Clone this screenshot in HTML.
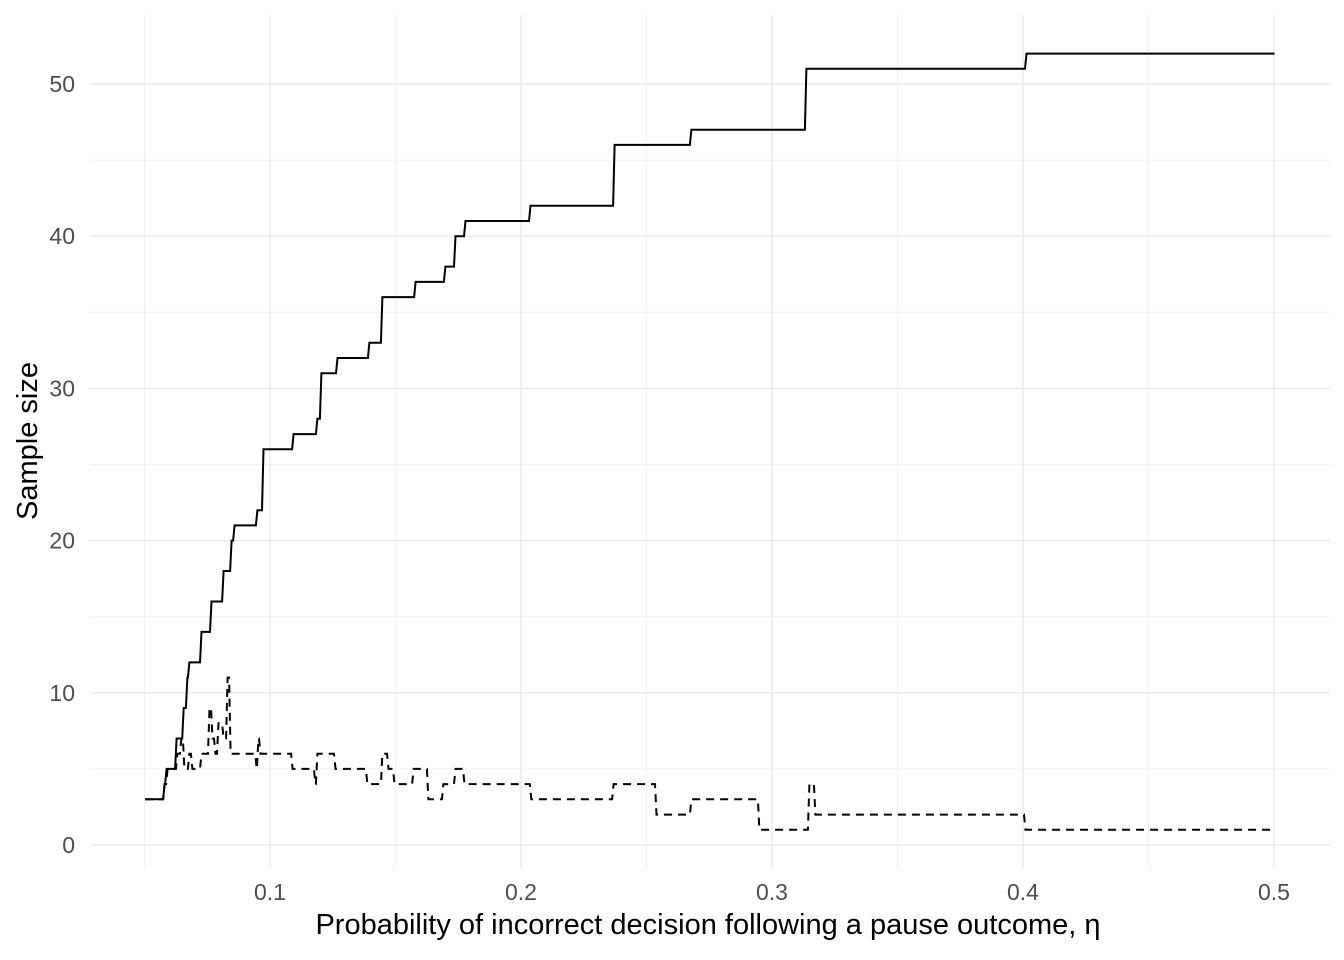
<!DOCTYPE html>
<html><head><meta charset="utf-8"><style>
html,body{margin:0;padding:0;background:#fff}
svg{display:block;font-family:"Liberation Sans",Arial,sans-serif}
</style></head><body>
<svg id="chart" width="1344" height="960" viewBox="0 0 1344 960">
<g id="grid"></g>
<g id="series"></g>
<g id="axes"></g>
<text x="708" y="934" font-size="29" text-anchor="middle" fill="#000">Probability of incorrect decision following a pause outcome, η</text>
<text transform="translate(37,441) rotate(-90)" font-size="29" text-anchor="middle" fill="#000">Sample size</text>
</svg>
<script>
const xTicks=[0.1,0.2,0.3,0.4,0.5];
const xTickLabels=["0.1","0.2","0.3","0.4","0.5"];
const yTicks=[0,10,20,30,40,50];
const yTickLabels=["0","10","20","30","40","50"];
// solid series: eta breakpoints and sample size (step after)
const solidX=[0.0502,0.0574,0.0582,0.0618,0.0622,0.065,0.0665,0.0673,0.0721,0.0761,0.0809,0.0841,0.0853,0.0944,0.0968,0.1088,0.1183,0.1199,0.1263,0.1390,0.1442,0.1574,0.1693,0.1733,0.1773,0.2032,0.2367,0.2673,0.3131,0.4008,0.4996];
const solidY=[3,4,5,5,7,9,11,12,14,16,18,20,21,22,26,27,28,31,32,33,36,37,38,40,41,42,46,47,51,52,52];
// dashed series
const dashX=[0.0502,0.0574,0.0586,0.0601,0.0625,0.0641,0.0653,0.0673,0.0685,0.0713,0.0721,0.0753,0.0765,0.0777,0.0789,0.0809,0.0825,0.0837,0.0849,0.0941,0.0948,0.0956,0.0968,0.1084,0.1175,0.1183,0.1255,0.1382,0.1442,0.1466,0.1490,0.1566,0.1625,0.1685,0.1733,0.1769,0.2035,0.2363,0.2534,0.2673,0.2944,0.3143,0.3167,0.4004,0.4996];
const dashY=[3,4,5,5,6,7,5,6,5,5,6,9,7,6,8,7,11,6,6,5,7,6,6,5,4,6,5,4,6,5,4,5,3,4,5,4,3,4,2,3,1,4,2,1,1];

const NS="http://www.w3.org/2000/svg";
const X0=90,X1=1330,Y0=15,Y1=868;
function sx(v){return 19+v*2510;}
function sy(v){return 845-v*15.22;}
const grid=document.getElementById('grid'),axes=document.getElementById('axes'),series=document.getElementById('series');
function line(p,x1,y1,x2,y2,w,c){const l=document.createElementNS(NS,'line');l.setAttribute('x1',x1);l.setAttribute('y1',y1);l.setAttribute('x2',x2);l.setAttribute('y2',y2);l.setAttribute('stroke',c);l.setAttribute('stroke-width',w);p.appendChild(l);return l;}
for(let v=0.05;v<=0.5001;v+=0.1){const l=line(grid,sx(v),Y0,sx(v),Y1,1,'#f0f0f0');

}
for(let v=5;v<=45;v+=10){const l=line(grid,X0,sy(v),X1,sy(v),1,'#f0f0f0');

}
xTicks.forEach((v,i)=>{const l=line(grid,sx(v),Y0,sx(v),Y1,1.3,'#e8e8e8');


const t=document.createElementNS(NS,'text');t.setAttribute('x',sx(v));t.setAttribute('y',900);t.setAttribute('font-size','23');t.setAttribute('fill','#4d4d4d');t.setAttribute('text-anchor','middle');t.textContent=xTickLabels[i];


axes.appendChild(t);});
yTicks.forEach((v,i)=>{const l=line(grid,X0,sy(v),X1,sy(v),1.3,'#e8e8e8');


const t=document.createElementNS(NS,'text');t.setAttribute('x',75);t.setAttribute('y',sy(v)+8);t.setAttribute('font-size','23');t.setAttribute('fill','#4d4d4d');t.setAttribute('text-anchor','end');t.textContent=yTickLabels[i];


axes.appendChild(t);});
function stepPath(xs,ys){let d='M'+sx(xs[0]).toFixed(1)+','+sy(ys[0]).toFixed(1);
for(let i=1;i<xs.length;i++){d+=' L'+sx(xs[i]).toFixed(1)+','+sy(ys[i-1]).toFixed(1)+' L'+(sx(xs[i])+1.5).toFixed(1)+','+sy(ys[i]).toFixed(1);}
return d;}
const p1=document.createElementNS(NS,'path');p1.setAttribute('d',stepPath(solidX,solidY));p1.setAttribute('fill','none');p1.setAttribute('stroke','#000');p1.setAttribute('stroke-width','2');


series.appendChild(p1);
const p2=document.createElementNS(NS,'path');p2.setAttribute('d',stepPath(dashX,dashY));p2.setAttribute('fill','none');p2.setAttribute('stroke','#000');p2.setAttribute('stroke-width','2');p2.setAttribute('stroke-dasharray','8,6');


series.appendChild(p2);
</script>
</body></html>
